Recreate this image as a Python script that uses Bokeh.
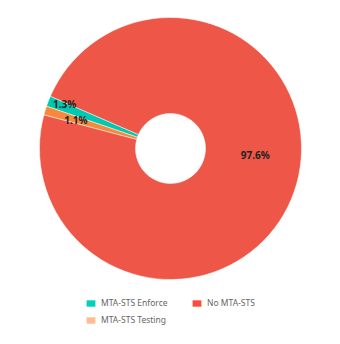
import numpy as np
from bokeh.plotting import figure
from bokeh.models import Range1d, ColumnDataSource, Legend, LegendItem
from bokeh.core.properties import value
from bokeh.embed import file_html
from bokeh.resources import INLINE

categories = ["MTA-STS Enforce", "MTA-STS Testing", "No MTA-STS"]
percents = [1.3, 1.1, 97.6]
slice_colors = ["#00c9b1", "#f7883c", "#ee5647"]
legend_colors = ["#00d1b8", "#ffbb92", "#ff4b3e"]
labels = ["1.3%", "1.1%", "97.6%"]

W, H = 340, 344
cx, cy = 170, H - 148
start_deg = 156.5

vals = np.array(percents)
frac = vals / vals.sum()
ends = np.deg2rad(start_deg) + np.cumsum(frac) * 2 * np.pi
starts = np.concatenate([[np.deg2rad(start_deg)], ends[:-1]])
# label placement (radius in px, angle in degrees)
label_r = np.array([115, 99, 85])
label_ang = np.deg2rad([157.0, 163.0, -4.7])

src = ColumnDataSource(dict(cat=categories, start=starts, end=ends, color=slice_colors,
                            x=[cx]*3, y=[cy]*3))
lab = ColumnDataSource(dict(x=cx + label_r*np.cos(label_ang), y=cy + label_r*np.sin(label_ang), t=labels))
leg_src = ColumnDataSource(dict(x=[cx]*3, y=[cy]*3, w=[0]*3, h=[0]*3, color=legend_colors))

p = figure(width=W, height=H, output_backend="svg", toolbar_location=None,
           x_range=Range1d(0, W), y_range=Range1d(0, H), min_border=0)
p.axis.visible = False
p.grid.visible = False
p.outline_line_color = None
p.background_fill_color = "white"

p.annular_wedge(x="x", y="y", inner_radius=35, outer_radius=131,
                inner_radius_units="screen", outer_radius_units="screen",
                start_angle="start", end_angle="end", fill_color="color", line_color="white",
                line_width=0.5, source=src)
p.text(x="x", y="y", text="t", source=lab, text_align="center", text_baseline="middle",
       text_font=value("Noto Sans"), text_font_size="10px", text_font_style="bold", text_color="#222222")

lr = p.rect(x="x", y="y", width="w", height="h", fill_color="color", line_color=None, source=leg_src)
items = [LegendItem(label=categories[i], renderers=[lr], index=i) for i in range(3)]

leg = Legend(items=items, ncols=2, location=(85, 19), padding=0, margin=0,
             border_line_color=None, background_fill_alpha=0,
             glyph_width=11, glyph_height=8, label_standoff=5, spacing=6,
             label_height=10, label_width=84,
             label_text_font="Noto Sans", label_text_font_size="8.5px", label_text_color="#666666")
p.add_layout(leg, "center")

open("out.html", "w").write(file_html(p, INLINE))
